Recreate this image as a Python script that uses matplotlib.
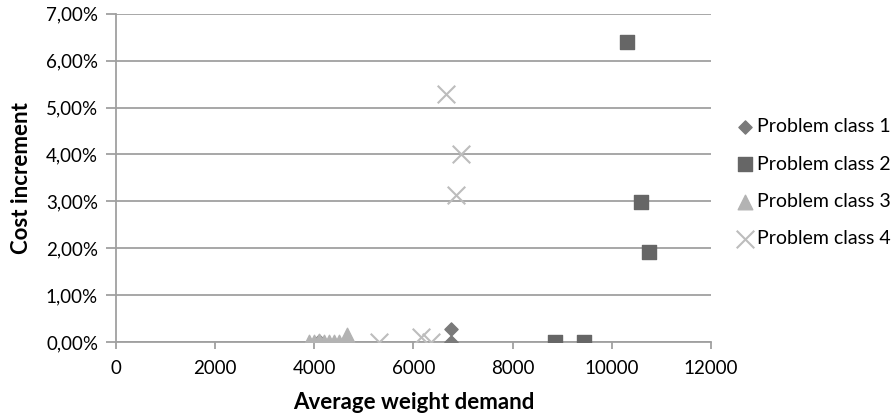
import matplotlib
matplotlib.use("Agg")
import matplotlib.pyplot as plt
from matplotlib.ticker import FuncFormatter

plt.rcParams['font.family'] = ['Lato', 'DejaVu Sans']

# average weight demand / cost increment (%)
c1_x = [4100, 6750, 6750]
c1_y = [0.02, 0.0, 0.28]
c2_x = [8850, 9450, 10300, 10600, 10750]
c2_y = [0.0, 0.0, 6.40, 2.98, 1.92]
c3_x = [3900, 4000, 4100, 4200, 4300, 4400, 4500, 4650]
c3_y = [0.0, 0.0, 0.02, 0.0, 0.0, 0.0, 0.0, 0.15]
c4_x = [5300, 6150, 6350, 6650, 6950, 6850]
c4_y = [0.0, 0.1, 0.0, 5.30, 4.00, 3.13]

fig = plt.figure(figsize=(8.93, 4.19), dpi=100)
ax = fig.add_axes([0.13, 0.184, 0.666, 0.783])

ax.scatter(c1_x, c1_y, marker='D', s=45, color='#7a7a7a', label='Problem class 1', zorder=3)
ax.scatter(c2_x, c2_y, marker='s', s=110, color='#666666', label='Problem class 2', zorder=3)
ax.scatter(c3_x, c3_y, marker='^', s=110, color='#b3b3b3', label='Problem class 3', zorder=3)
ax.scatter(c4_x, c4_y, marker='x', s=160, color='#bdbdbd', linewidths=1.5, label='Problem class 4', zorder=3)

ax.set_xlim(0, 12000)
ax.set_ylim(0, 7)
ax.set_xticks(range(0, 12001, 2000))
ax.set_yticks(range(0, 8))
ax.yaxis.set_major_formatter(FuncFormatter(lambda v, p: f"{v:.2f}%".replace('.', ',')))

ax.grid(axis='y', color='#a0a0a0', linewidth=1.3)
ax.set_axisbelow(True)
for s in ['top', 'right']:
    ax.spines[s].set_visible(False)
for s in ['left', 'bottom']:
    ax.spines[s].set_color('#a0a0a0')
    ax.spines[s].set_linewidth(1.3)
ax.tick_params(colors='#a0a0a0', labelcolor='black', labelsize=13.5, width=1.3)
ax.tick_params(axis='y', length=7, pad=6)
ax.tick_params(axis='x', length=5, pad=8)

ax.set_xlabel('Average weight demand', fontsize=16, fontweight='bold', labelpad=11)
ax.set_ylabel('Cost increment', fontsize=16, fontweight='bold', labelpad=10)

ax.legend(loc='center left', bbox_to_anchor=(1.025, 0.485), frameon=False, fontsize=14,
          handletextpad=0.0, labelspacing=1.05, borderaxespad=0, handlelength=1.2)

fig.savefig('out.png', dpi=100)
